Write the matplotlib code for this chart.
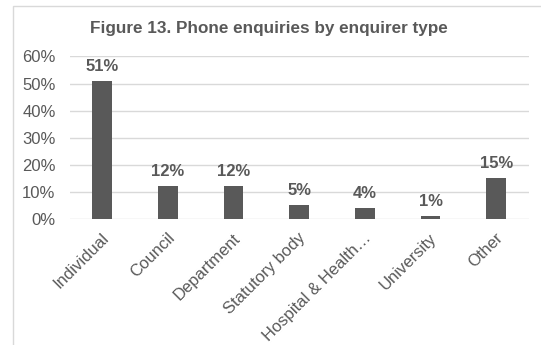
import matplotlib
matplotlib.use("Agg")
import matplotlib.pyplot as plt
from matplotlib.patches import Rectangle
from matplotlib.ticker import PercentFormatter
from matplotlib.transforms import ScaledTranslation

categories = ["Individual", "Council", "Department", "Statutory body",
              "Hospital & Health…", "University", "Other"]
values = [51, 12, 12, 5, 4, 1, 15]
yticks = [0, 10, 20, 30, 40, 50, 60]

plt.rcParams['font.family'] = ['Liberation Sans', 'DejaVu Sans']
txt = "#595959"
fig = plt.figure(figsize=(5.41, 3.45), dpi=100)
W, H = 541, 345
ax = fig.add_axes([69.5 / W, 1 - 219 / H, (529 - 69.5) / W, (219 - 56.4) / H])

x = range(len(categories))
ax.bar(x, values, width=0.30, color="#595959", zorder=3)
for xi, v in zip(x, values):
    ax.text(xi, v + 2.6, f"{v}%", ha="center", va="bottom", fontsize=12,
            fontweight="bold", color=txt)

ax.set_xlim(-0.5, len(categories) - 0.5)
ax.set_ylim(0, 60)
ax.set_yticks(yticks)
ax.yaxis.set_major_formatter(PercentFormatter(decimals=0))
ax.grid(axis="y", color="#d9d9d9", linewidth=1, zorder=0)
for s in ax.spines.values():
    s.set_visible(False)
ax.tick_params(axis="y", length=0, labelsize=12, labelcolor=txt, pad=10)
ax.tick_params(axis="x", length=0, labelsize=12, labelcolor=txt, pad=12)
ax.set_xticks(list(x))
ax.set_xticklabels(categories, rotation=45, ha="right", va="center",
                   rotation_mode="anchor")
offset = ScaledTranslation(4 / 100, 0, fig.dpi_scale_trans)
for lbl in ax.get_xticklabels():
    lbl.set_transform(lbl.get_transform() + offset)

fig.text(268.5 / W, 1 - 28.5 / H, "Figure 13. Phone enquiries by enquirer type",
         ha="center", va="center", fontsize=12.3, fontweight="bold", color=txt)

fig.patches.append(Rectangle((13 / W, -0.01), (W - 13) / W + 0.01, 1 - 6 / H + 0.01,
                             transform=fig.transFigure, fill=False,
                             edgecolor="#d9d9d9", linewidth=1))
fig.savefig("out.png", dpi=100)
